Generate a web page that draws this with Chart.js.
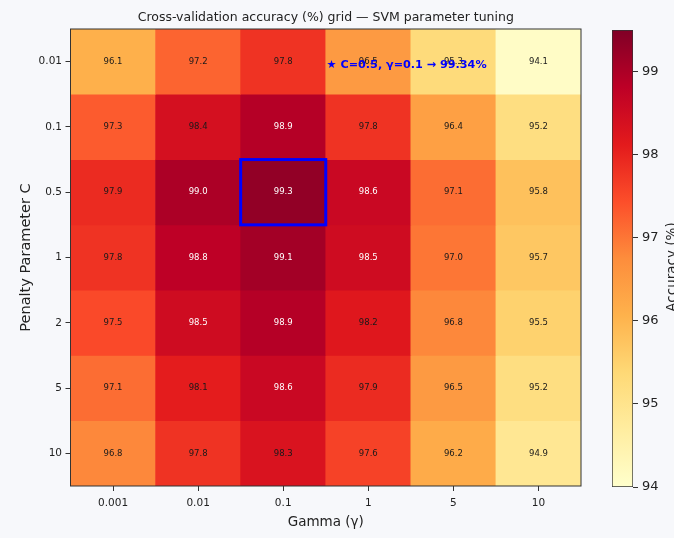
<!DOCTYPE html>
<html>
<head>
<meta charset="utf-8">
<script src="https://cdn.jsdelivr.net/npm/chart.js@4.4.1/dist/chart.umd.min.js"></script>
<style>
html,body{margin:0;padding:0;background:#f7f8fb;}
#wrap{position:relative;width:674px;height:538px;overflow:hidden;}
#main{position:absolute;left:0;top:0;}
#cbar{position:absolute;left:600px;top:0;}
</style>
</head>
<body>
<div id="wrap">
<canvas id="main" width="674" height="538"></canvas>
<canvas id="cbar" width="74" height="538"></canvas>
</div>
<script>
// ---- data ----
const GAMMA_LABELS = ['0.001', '0.01', '0.1', '1', '5', '10'];
const C_LABELS = ['0.01', '0.1', '0.5', '1', '2', '5', '10'];
const ACC_C_0_01 = [96.1, 97.2, 97.8, 96.5, 95.3, 94.1];
const ACC_C_0_1  = [97.3, 98.4, 98.9, 97.8, 96.4, 95.2];
const ACC_C_0_5  = [97.9, 99.0, 99.3, 98.6, 97.1, 95.8];
const ACC_C_1    = [97.8, 98.8, 99.1, 98.5, 97.0, 95.7];
const ACC_C_2    = [97.5, 98.5, 98.9, 98.2, 96.8, 95.5];
const ACC_C_5    = [97.1, 98.1, 98.6, 97.9, 96.5, 95.2];
const ACC_C_10   = [96.8, 97.8, 98.3, 97.6, 96.2, 94.9];
const COLORBAR_TICKS = [94, 95, 96, 97, 98, 99];
const COLOR_MIN = 94;
const COLOR_MAX = 99.5;
const BEST_C = '0.5';
const BEST_GAMMA = '0.1';
const BEST_ACC = 99.34;

const ROWS = [ACC_C_0_01, ACC_C_0_1, ACC_C_0_5, ACC_C_1, ACC_C_2, ACC_C_5, ACC_C_10];

// ---- colormap (YlOrRd) ----
const YLORRD = ['#ffffcc','#ffeda0','#fed976','#feb24c','#fd8d3c','#fc4e2a','#e31a1c','#bd0026','#800026'];
function hexToRgb(h){return [parseInt(h.substr(1,2),16),parseInt(h.substr(3,2),16),parseInt(h.substr(5,2),16)];}
function cmap(v){
  let t = (v - COLOR_MIN) / (COLOR_MAX - COLOR_MIN);
  t = Math.max(0, Math.min(1, t));
  const p = t * (YLORRD.length - 1);
  const i = Math.min(Math.floor(p), YLORRD.length - 2);
  const f = p - i;
  const a = hexToRgb(YLORRD[i]), b = hexToRgb(YLORRD[i+1]);
  const c = a.map((x,k)=>Math.round(x + (b[k]-x)*f));
  return 'rgb(' + c.join(',') + ')';
}

Chart.defaults.font.family = '"DejaVu Sans", sans-serif';
Chart.defaults.color = '#222';

const FONT = '"DejaVu Sans", sans-serif';

const heatPlugin = {
  id: 'heatExtras',
  afterDatasetsDraw(chart){
    const ctx = chart.ctx;
    const area = chart.chartArea;
    ctx.save();
    // cell labels
    ctx.textAlign = 'center';
    ctx.textBaseline = 'middle';
    ctx.font = '8.5px ' + FONT;
    chart.data.datasets.forEach((ds, di) => {
      const meta = chart.getDatasetMeta(di);
      meta.data.forEach((bar, j) => {
        const v = ds.data[j].v;
        ctx.fillStyle = v >= 98.5 ? '#ffffff' : '#1a1a1a';
        ctx.fillText(v.toFixed(1), bar.x, (bar.y + bar.base) / 2);
      });
    });
    // best cell box
    const bi = GAMMA_LABELS.indexOf(BEST_GAMMA);
    const bj = C_LABELS.indexOf(BEST_C);
    const bar = chart.getDatasetMeta(bj).data[bi];
    const top = Math.min(bar.y, bar.base), h = Math.abs(bar.base - bar.y);
    ctx.strokeStyle = '#0000ff';
    ctx.lineWidth = 3;
    ctx.strokeRect(bar.x - bar.width / 2, top, bar.width, h);
    // frame
    ctx.strokeStyle = '#333';
    ctx.lineWidth = 1;
    ctx.strokeRect(area.left, area.top, area.right - area.left, area.bottom - area.top);
    // annotation
    const xs = chart.scales.x, ys = chart.scales.y;
    ctx.fillStyle = '#0000ff';
    ctx.font = 'bold 11.2px ' + FONT;
    ctx.textAlign = 'center';
    ctx.textBaseline = 'middle';
    ctx.fillText('★ C=' + BEST_C + ', γ=' + BEST_GAMMA + ' → ' + BEST_ACC.toFixed(2) + '%',
                 xs.getPixelForValue(3.45), ys.getPixelForValue(0.55));
    ctx.restore();
  }
};

new Chart(document.getElementById('main'), {
  type: 'bar',
  data: {
    labels: GAMMA_LABELS,
    datasets: ROWS.map((row, r) => ({
      label: 'C=' + C_LABELS[r],
      data: row.map((v, j) => ({x: GAMMA_LABELS[j], y: [r, r + 1], v: v})),
      backgroundColor: row.map(v => cmap(v)),
      borderWidth: 0,
      barPercentage: 1,
      categoryPercentage: 1,
      grouped: false
    }))
  },
  options: {
    responsive: false,
    animation: false,
    events: [],
    devicePixelRatio: 1,
    layout: {padding: {left: 0, right: 93, top: 0, bottom: 0}},
    plugins: {
      legend: {display: false},
      tooltip: {enabled: false},
      title: {
        display: true,
        fullSize: false,
        text: 'Cross-validation accuracy (%) grid — SVM parameter tuning',
        color: '#222',
        font: {family: FONT, size: 12.5, weight: 'normal'},
        padding: {top: 10, bottom: 4}
      }
    },
    scales: {
      x: {
        type: 'category',
        offset: true,
        grid: {display: true, drawOnChartArea: false, drawTicks: true, tickLength: 5, color: '#333', offset: false},
        border: {display: false},
        ticks: {color: '#222', font: {family: FONT, size: 10.5}, padding: 6, maxRotation: 0},
        title: {display: true, text: 'Gamma (γ)', color: '#222', font: {family: FONT, size: 13.5}, padding: {top: 0, bottom: 7}},
        afterFit(s){ s.height = 52; }
      },
      y: {
        type: 'linear',
        min: 0,
        max: 7,
        reverse: true,
        afterBuildTicks(s){ s.ticks = C_LABELS.map((_, i) => ({value: i + 0.5})); },
        grid: {display: true, drawOnChartArea: false, drawTicks: true, tickLength: 5, color: '#333'},
        border: {display: false},
        ticks: {color: '#222', font: {family: FONT, size: 10.5}, padding: 3.5, callback: (v, i) => C_LABELS[i]},
        title: {display: true, text: 'Penalty Parameter C', color: '#222', font: {family: FONT, size: 14.5}, padding: {top: 18, bottom: 0}},
        afterFit(s){ s.width = 70.5; }
      }
    }
  },
  plugins: [heatPlugin]
});

// ---- colorbar ----
const cbarLabelPlugin = {
  id: 'cbarLabel',
  afterDraw(chart){
    const ctx = chart.ctx;
    ctx.save();
    ctx.translate(72, 267);
    ctx.rotate(-Math.PI / 2);
    ctx.fillStyle = '#222';
    ctx.font = '13.5px ' + FONT;
    ctx.textAlign = 'center';
    ctx.textBaseline = 'middle';
    ctx.fillText('Accuracy (%)', 0, 0);
    ctx.restore();
  }
};

new Chart(document.getElementById('cbar'), {
  type: 'bar',
  data: {
    labels: [''],
    datasets: [{
      data: [[COLOR_MIN, COLOR_MAX]],
      backgroundColor: (c) => {
        const a = c.chart.chartArea;
        if (!a) return YLORRD[0];
        const g = c.chart.ctx.createLinearGradient(0, a.bottom, 0, a.top);
        YLORRD.forEach((col, i) => g.addColorStop(i / (YLORRD.length - 1), col));
        return g;
      },
      borderColor: '#333',
      borderWidth: 1,
      borderSkipped: false,
      barPercentage: 1,
      categoryPercentage: 1
    }]
  },
  options: {
    responsive: false,
    animation: false,
    events: [],
    devicePixelRatio: 1,
    layout: {padding: {left: 12, right: 0, top: 30, bottom: 51}},
    plugins: {legend: {display: false}, tooltip: {enabled: false}},
    scales: {
      x: {display: false},
      y: {
        position: 'right',
        min: COLOR_MIN,
        max: COLOR_MAX,
        afterBuildTicks(s){ s.ticks = COLORBAR_TICKS.map(v => ({value: v})); },
        grid: {display: true, drawOnChartArea: false, drawTicks: true, tickLength: 5, color: '#333'},
        border: {display: false},
        ticks: {color: '#222', font: {family: FONT, size: 13}, padding: 4},
        afterFit(s){ s.width = 41; }
      }
    }
  },
  plugins: [cbarLabelPlugin]
});
</script>
</body>
</html>
